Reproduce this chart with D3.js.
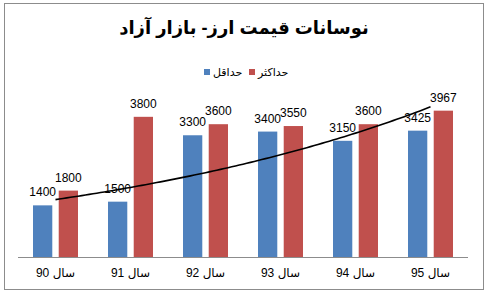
<!DOCTYPE html>
<html><head><meta charset="utf-8">
<script src="https://cdn.jsdelivr.net/npm/d3@7"></script>
<style>body{margin:0;background:#fff}svg{display:block}</style>
</head><body>
<svg id="c" width="488" height="296"></svg>
<script>
const title = "نوسانات قیمت ارز- بازار آزاد";
const categories = ["سال 90","سال 91","سال 92","سال 93","سال 94","سال 95"];
const seriesNames = ["حداقل","حداکثر"];
const minValues = [1400,1500,3300,3400,3150,3425];
const maxValues = [1800,3800,3600,3550,3600,3967];
const colors = ["#4F81BD","#C0504D"];
const yMax = 4500;

const svg = d3.select("#c");
const font = "'Liberation Sans', Arial, 'DejaVu Sans', sans-serif";

svg.append("rect").attr("x",4.5).attr("y",3.5).attr("width",479).attr("height",286)
  .attr("fill","#fff").attr("stroke","#8c8c8c").attr("stroke-width",1);

const plot = {left:18, right:468, top:91, bottom:257};
const x0 = d3.scaleBand().domain(categories).range([plot.left, plot.right]).paddingInner(0.4).paddingOuter(0.2);
const x1 = d3.scaleBand().domain([0,1]).range([0, x0.bandwidth()]).paddingInner(0.25);
const y = d3.scaleLinear().domain([0,yMax]).range([plot.bottom, plot.top]);

// title
svg.append("text").attr("x",244).attr("y",34).attr("text-anchor","middle").attr("direction","rtl")
  .attr("font-family",font).attr("font-weight","bold").attr("font-size",18).attr("fill","#000").text(title);

// legend
const legendItems = [{i:0,x:204},{i:1,x:249}];
legendItems.forEach(d=>{
  svg.append("rect").attr("x",d.x).attr("y",69).attr("width",6).attr("height",6).attr("fill",colors[d.i]);
  svg.append("text").attr("x",d.x+9).attr("y",76).attr("text-anchor","start")
    .attr("font-family",font).attr("font-size",11).attr("fill","#000").text(seriesNames[d.i]);
});

const data = categories.map((c,k)=>({c, vals:[minValues[k], maxValues[k]]}));
const g = svg.append("g");
const groups = g.selectAll("g.grp").data(data).join("g").attr("transform",d=>`translate(${x0(d.c)},0)`);
groups.selectAll("rect").data(d=>d.vals.map((v,i)=>({v,i}))).join("rect")
  .attr("x",d=>x1(d.i)).attr("width",x1.bandwidth())
  .attr("y",d=>y(d.v)).attr("height",d=>plot.bottom-y(d.v)).attr("fill",d=>colors[d.i]);

// axis
const xAxis = d3.axisBottom(x0).tickSize(0).tickPadding(11);
const ax = svg.append("g").attr("transform",`translate(0,${plot.bottom})`).call(xAxis);
ax.select(".domain").attr("stroke","#8c8c8c").attr("d",`M${plot.left},0.5H${plot.right}`);
ax.selectAll("text").attr("font-family",font).attr("font-size",12).attr("fill","#000").attr("direction","rtl");

// trendline: exponential least squares fit of min series
const n = minValues.length;
const xs = d3.range(n), ls = minValues.map(v=>Math.log(v));
const mx = d3.mean(xs), ml = d3.mean(ls);
const b = d3.sum(xs.map((xv,k)=>(xv-mx)*(ls[k]-ml))) / d3.sum(xs.map(xv=>(xv-mx)*(xv-mx)));
const a = ml - b*mx;
const xi = d3.scaleLinear().domain([0,n-1]).range([x0(categories[0])+x0.bandwidth()/2, x0(categories[n-1])+x0.bandwidth()/2]);
const pts = d3.range(0, n-1+0.001, 0.05).map(t=>[xi(t), y(Math.exp(a+b*t))]);
svg.append("path").attr("d",d3.line()(pts)).attr("fill","none").attr("stroke","#000").attr("stroke-width",1.6);

// data labels
groups.selectAll("text.lbl").data(d=>d.vals.map((v,i)=>({v,i}))).join("text").attr("class","lbl")
  .attr("x",d=>x1(d.i)+x1.bandwidth()/2).attr("y",d=>y(d.v)-9).attr("text-anchor","middle")
  .attr("font-family",font).attr("font-size",12).attr("fill","#000").text(d=>d.v);
</script>
</body></html>
